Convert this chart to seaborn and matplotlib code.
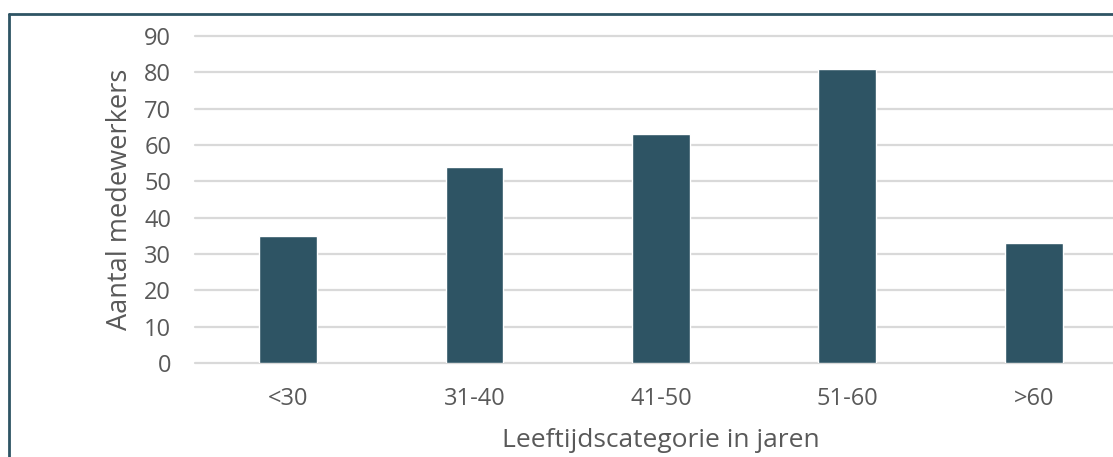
import pandas as pd
import seaborn as sns
import matplotlib.pyplot as plt
from matplotlib.lines import Line2D

categorieen = ['<30', '31-40', '41-50', '51-60', '>60']
aantal = [35, 54, 63, 81, 33]
y_ticks = [0, 10, 20, 30, 40, 50, 60, 70, 80, 90]

df = pd.DataFrame({'categorie': categorieen, 'aantal': aantal})

sns.set_style('white')
plt.rcParams['font.family'] = ['Open Sans', 'DejaVu Sans']

grijs = '#595959'
balk = '#2E5464'

fig = plt.figure(figsize=(11.13, 4.57), dpi=100)
ax = fig.add_axes([0.175, 0.2057, 0.825, 0.7153])

sns.barplot(data=df, x='categorie', y='aantal', color=balk, width=0.31,
            saturation=1, ax=ax, zorder=3)

ax.set_ylim(0, 90)
ax.set_xlim(-0.5, 4.425)
ax.set_yticks(y_ticks)
ax.yaxis.grid(True, color='#D9D9D9', linewidth=1.6, zorder=0)
for gl in ax.get_ygridlines():
    gl.set_clip_on(False)
for s in ax.spines.values():
    s.set_visible(False)
ax.tick_params(axis='both', length=0, labelsize=17, labelcolor=grijs)
ax.tick_params(axis='y', pad=17)
ax.tick_params(axis='x', pad=17)

ax.set_ylabel('Aantal medewerkers', fontsize=19.5, color=grijs)
ax.yaxis.set_label_coords(-61 / 918, 0.5)
ax.set_xlabel('Leeftijdscategorie in jaren', fontsize=19, color=grijs)
ax.xaxis.set_label_coords(466 / 918, -0.2)

# rand van het kader links en boven
fig.add_artist(Line2D([9 / 1113, 9 / 1113], [0, 1 - 14 / 457], color='#2E5464', linewidth=2))
fig.add_artist(Line2D([9 / 1113, 1], [1 - 14 / 457, 1 - 14 / 457], color='#2E5464', linewidth=2))

fig.savefig('out.png', dpi=100)
